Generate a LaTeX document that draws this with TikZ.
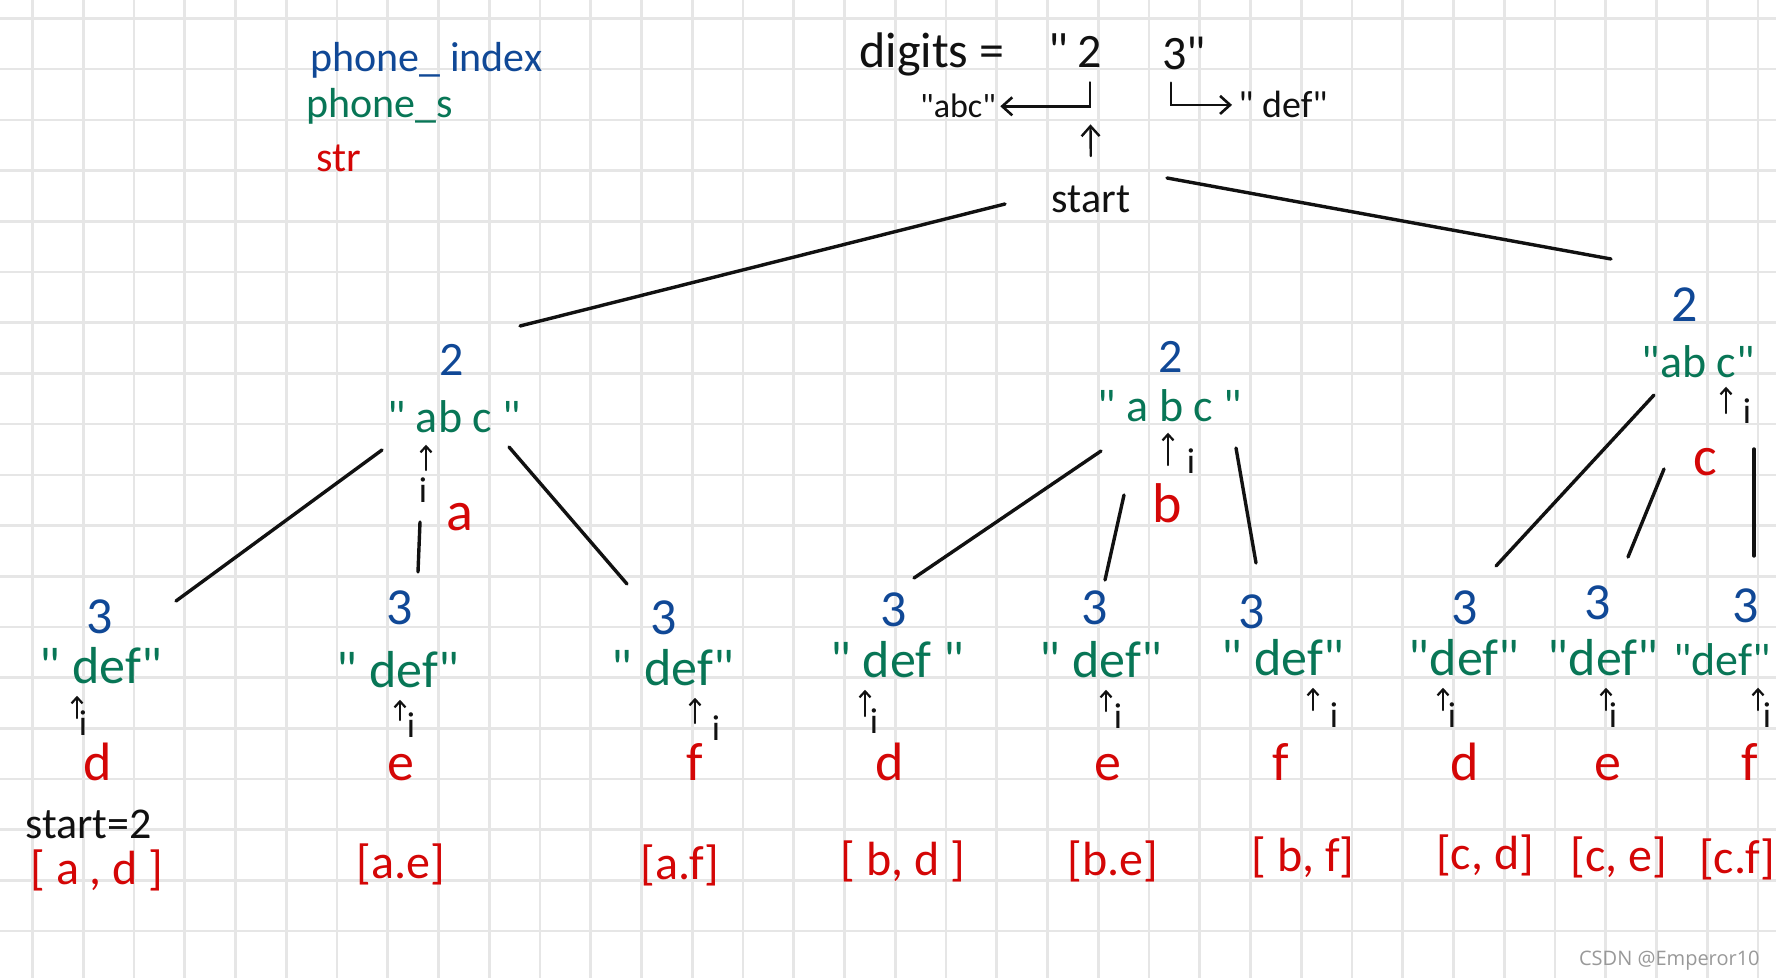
\documentclass[tikz,border=0pt]{standalone}
\usepackage{fontspec}
\setmainfont{Carlito}
\newfontfamily\markfont{Open Sans}
\usetikzlibrary{arrows.meta}
\definecolor{inkblue}{RGB}{16,72,150}
\definecolor{inkgreen}{RGB}{8,118,86}
\definecolor{inkred}{RGB}{212,6,6}
\definecolor{inkblack}{RGB}{17,17,17}
\definecolor{gridgray}{RGB}{230,230,230}
\newcommand{\inksize}[1]{\fontsize{#1}{#1}\selectfont}
\newcommand{\qt}{\textquotedbl}

\begin{document}
\begin{tikzpicture}[x=0.5pt,y=-0.5pt,
  gridline/.style={draw=gridgray,line width=1.3pt},
  edge/.style={draw=inkblack,line width=1.7pt,line cap=round},
  ptr/.style={draw=inkblack,line width=1.1pt,line cap=round,-{Straight Barb[length=3pt,width=5.5pt]}},
  bigptr/.style={ptr,line width=1.3pt,-{Straight Barb[length=5pt,width=9pt]}},
  txt/.style={inner sep=0pt,anchor=base},
  note/.style={txt,text=inkblack,font=\inksize{20}},
  lvl/.style={txt,text=inkblue,font=\inksize{26}},
  strg/.style={txt,text=inkgreen,font=\inksize{26}},
  chr/.style={txt,text=inkred,font=\inksize{27}},
  res/.style={txt,text=inkred,font=\inksize{24}}]

% grid paper
\fill[white] (0,0) rectangle (1776,978);
\useasboundingbox (0,0) rectangle (1776,978);
\clip (0,0) rectangle (1776,978);
\foreach \gx in {0,...,34} \draw[gridline] ({32.5+50.75*\gx},0) -- ++(0,978);
\foreach \gy in {0,...,19} \draw[gridline] (0,{18.5+50.7*\gy}) -- ++(1776,0);

% legend
\node[lvl,anchor=base west,font=\inksize{21}] (keyidx) at (310,72) {phone\_ index};
\node[strg,anchor=base west,font=\inksize{21}] (keys) at (306,118) {phone\_s};
\node[res,anchor=base west,font=\inksize{21}] (keystr) at (316,172) {str};

% digits and the first call
\node[note,anchor=base west,font=\inksize{25}] (digits) at (859,68) {digits =\hspace{22pt}\qt};
\node[note,font=\inksize{24}] (d2) at (1090,68) {2};
\node[note,anchor=base west,font=\inksize{24}] (d3) at (1162,70) {3\qt};
\node[note,font=\inksize{17}] (mapabc) at (958,118) {\qt abc\qt};
\node[note,anchor=base west,font=\inksize{19}] (mapdef) at (1238,118) {\qt{} def\qt};
\node[note,font=\inksize{21}] (start) at (1091,213) {start};
\draw[bigptr,shorten <=7pt,shorten >=2pt] (d2.south) |- (mapabc.east);
\draw[bigptr,shorten <=6pt,shorten >=3pt] ([xshift=4.5pt]d3.south west) |- (mapdef.west);
\draw[bigptr,line width=1.2pt,shorten <=15pt,shorten >=28pt] (start.north) -- (d2.south);

\coordinate (sl) at (1005,204);
\coordinate (sr) at (1167,178);
\coordinate (lt) at (520,326);
\coordinate (rt) at (1611,259);
\draw[edge] (sl) -- (lt);
\draw[edge] (sr) -- (rt);

% index 2: "abc"
\node[lvl,font=\inksize{24}] (ln) at (452,375) {2};
\node[strg,font=\inksize{23}] (ls) at (454,432) {\qt{} ab c \qt};
\node[chr,font=\inksize{28}] (lc) at (460,530) {a};
\node[note,font=\inksize{18}] (li) at (423,502) {i};
\coordinate (lp) at (426,470);
\draw[ptr,shorten >=6pt] (lp) -- (lp |- ls.south);

\node[lvl,font=\inksize{24}] (mn) at (1171,372) {2};
\node[strg,font=\inksize{23}] (ms) at (1170,422) {\qt{} a b c \qt};
\node[chr,font=\inksize{28}] (mc) at (1167,522) {b};
\node[note,font=\inksize{18}] (mi) at (1191,473) {i};
\coordinate (mp) at (1168,465);
\draw[ptr,shorten >=5pt] (mp) -- (mp |- ms.south);

\node[lvl,font=\inksize{26}] (rn) at (1685,322) {2};
\node[strg,font=\inksize{23}] (rs) at (1698,378) {\qt ab c\qt};
\node[chr,font=\inksize{28}] (rc) at (1705,475) {c};
\node[note,font=\inksize{18}] (ri) at (1747,423) {i};
\coordinate (rp) at (1726,413);
\draw[ptr,shorten >=4pt] (rp) -- (rp |- rs.south);

\foreach \col/\bx/\by/\tx/\ty in {1/382/450/176/601, 2/420/522/418/572, 3/509/447/627/584,
  4/1101/451/914/578, 5/1124/495/1105/580, 6/1236/448/1256/563,
  7/1654/395/1496/566, 8/1664/469/1628/557, 9/1754/449/1754/556}
{
  \coordinate (e\col) at (\bx,\by);
  \coordinate (t\col) at (\tx,\ty);
  \draw[edge] (e\col) -- (t\col);
}

% index 3: "def"
\foreach \col/\nx/\ny/\wx/\wy/\word/\px/\py/\ix/\cx/\ch/\rx/\ry/\pair in {
  1/100/633/101/683/{\qt{} def\qt}/77/695/83/98/d/97/884/{[ a , d ]},
  2/400/624/398/687/{\qt{} def\qt}/400/697/411/401/e/401/878/{[a.e]},
  3/664/634/673/685/{\qt{} def\qt}/695/700/716/695/f/680/879/{[a.f]},
  4/894/626/897/677/{\qt{} def \qt}/865/693/874/890/d/903/875/{[ b, d ]},
  5/1095/624/1101/677/{\qt{} def\qt}/1106/688/1118/1108/e/1113/875/{[b.e]},
  6/1252/628/1283/675/{\qt{} def\qt}/1313/687/1334/1281/f/1303/871/{[ b, f]},
  7/1465/624/1464/675/{\qt def\qt}/1443/687/1452/1465/d/1485/869/{[c, d]},
  8/1598/619/1603/675/{\qt def\qt}/1606/687/1613/1608/e/1619/871/{[c, e]},
  9/1746/622/1722/675/{\fontsize{23}{23}\selectfont\qt def\qt}/1758/687/1767/1750/f/1737/873/{[c.f]}}
{
  \node[lvl] (n\col) at (\nx,\ny) {3};
  \node[strg] (s\col) at (\wx,\wy) {\word};
  \coordinate (p\col) at (\px,\py+23);
  \draw[ptr,shorten >=6pt] (p\col) -- (p\col |- s\col.south);
  \node[note,font=\inksize{18}] (i\col) at (\ix,\py+40) {i};
  \node[chr] (c\col) at (\cx,780) {\ch};
  \node[res] (r\col) at (\rx,\ry) {\pair};
}

\node[note,anchor=base west,font=\inksize{22}] (startnote) at (25,838) {start=2};
\node[txt,anchor=base east,text=gray!80,font=\markfont\fontsize{10}{12}\selectfont] (mark) at (1760,965) {CSDN @Emperor10};
\end{tikzpicture}
\end{document}
